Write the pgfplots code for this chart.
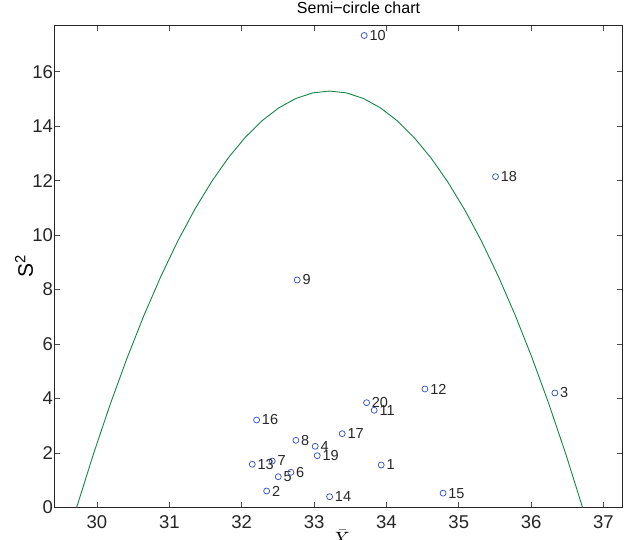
\documentclass[border=0pt]{standalone}
\usepackage{fontspec}
\setmainfont{Liberation Sans}
\usepackage{pgfplots}
\pgfplotsset{compat=1.18}
\definecolor{curvegreen}{RGB}{20,135,70}
\definecolor{markblue}{RGB}{45,75,205}
\begin{document}
\begin{tikzpicture}
\path[use as bounding box] (-55pt,-31.7pt) rectangle (571pt,507.3pt);
\begin{axis}[
  at={(0,0)}, anchor=south west,
  scale only axis, width=567.3pt, height=481.6pt,
  xmin=29.42, xmax=37.26, ymin=0, ymax=17.69,
  xtick={30,31,32,33,34,35,36,37}, ytick={0,2,4,6,8,10,12,14,16},
  tick align=inside, major tick length=5pt,
  axis line style={line width=1pt, black!85},
  every tick/.style={black!70, line width=0.6pt},
  /pgf/number format/assume math mode=true,
  tick label style={font=\fontsize{18.5}{20}\selectfont, text=black!85},
  xticklabel style={yshift=-4.5pt},
  yticklabel style={xshift=1.5pt},
  title={Semi−circle chart},
  title style={at={(axis description cs:0.535,1.0133)}, anchor=base, inner sep=0pt, font=\fontsize{16}{18}\selectfont},
  ylabel={S\textsuperscript{2}},
  ylabel style={at={(axis description cs:-0.0546,0.5)}, anchor=center, font=\fontsize{21}{23}\selectfont},
  xlabel={$\bar{X}$},
  xlabel style={at={(axis description cs:0.504,-0.047)}, anchor=north, inner sep=0pt, font=\fontsize{20}{22}\selectfont},
]
\addplot[curvegreen, line width=0.9pt, no marks] coordinates {
(29.72,0) (29.953,1.971) (30.186,3.806) (30.419,5.504) (30.652,7.067)
(30.885,8.494) (31.118,9.786) (31.351,10.941) (31.584,11.960) (31.817,12.844)
(32.05,13.591) (32.283,14.203) (32.516,14.678) (32.749,15.018) (32.982,15.222)
(33.215,15.29) (33.448,15.222) (33.681,15.018) (33.914,14.678) (34.147,14.203)
(34.38,13.591) (34.613,12.844) (34.846,11.960) (35.079,10.941) (35.312,9.786)
(35.545,8.494) (35.778,7.067) (36.011,5.504) (36.244,3.806) (36.477,1.971)
(36.71,0)
};
\addplot[only marks, mark=o, mark size=3pt, markblue, mark options={line width=0.7pt},
  nodes near coords, point meta=explicit symbolic,
  every node near coord/.append style={anchor=west, inner sep=0pt, xshift=5pt, text=black!85, font=\fontsize{14.5}{16}\selectfont}]
table[meta=lab] {
x y lab
33.928 1.554 1
32.345 0.599 2
36.328 4.199 3
33.016 2.241 4
32.505 1.124 5
32.680 1.286 6
32.422 1.701 7
32.749 2.461 8
32.767 8.350 9
33.693 17.33 10
33.831 3.564 11
34.532 4.346 12
32.146 1.580 13
33.215 0.389 14
34.783 0.520 15
32.206 3.207 16
33.389 2.704 17
35.508 12.146 18
33.044 1.896 19
33.726 3.843 20
};
\end{axis}
\end{tikzpicture}
\end{document}
